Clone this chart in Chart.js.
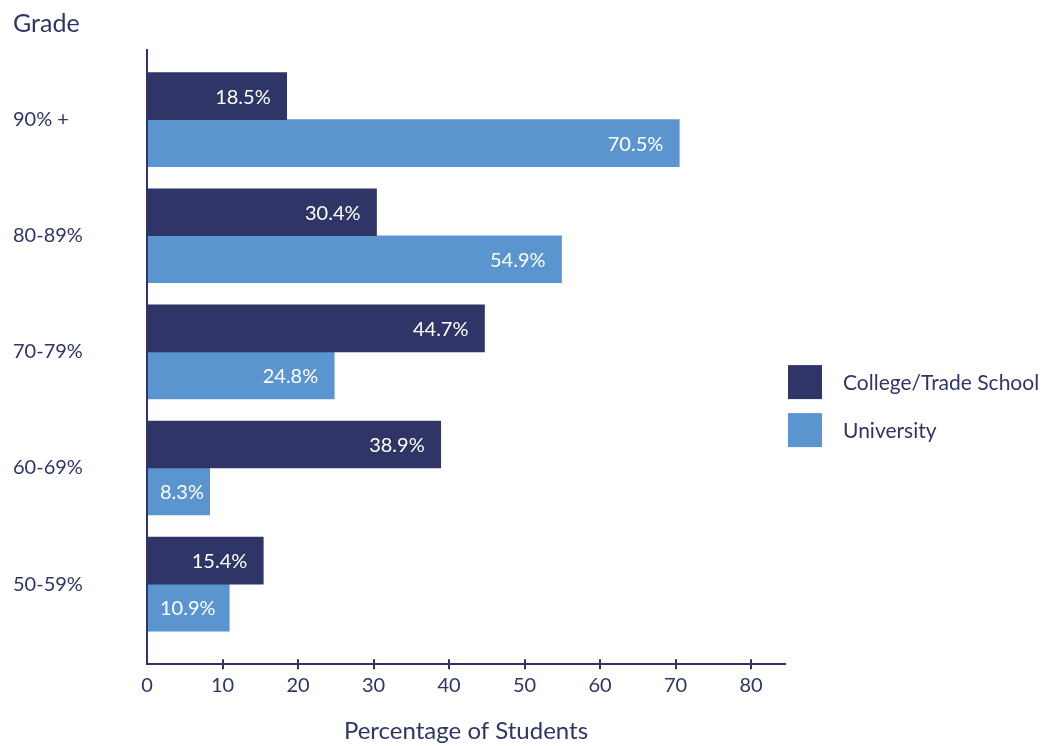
<!DOCTYPE html>
<html>
<head>
<meta charset="utf-8">
<script src="https://cdn.jsdelivr.net/npm/chart.js@4.4.1/dist/chart.umd.min.js"></script>
<style>
  html, body { margin: 0; padding: 0; background: #fff; }
  #wrap { width: 1053px; height: 746px; position: relative; }
</style>
</head>
<body>
<div id="wrap"><canvas id="gradeChart"></canvas></div>
<script>
// Grade distribution by post-secondary path
const grades = ['90% +', '80-89%', '70-79%', '60-69%', '50-59%'];
const collegeValues = [18.5, 30.4, 44.7, 38.9, 15.4];
const universityValues = [70.5, 54.9, 24.8, 8.3, 10.9];
const xTickValues = [0, 10, 20, 30, 40, 50, 60, 70, 80];

const navy = '#2f3566';
const lightBlue = '#5b95cf';
const fontFamily = 'Lato, "Noto Sans", sans-serif';

// white % labels inside the bars
const valueLabels = {
  id: 'valueLabels',
  afterDatasetsDraw(chart) {
    const ctx = chart.ctx;
    ctx.save();
    ctx.font = '20px ' + fontFamily;
    ctx.fillStyle = '#fff';
    ctx.textBaseline = 'middle';
    chart.data.datasets.forEach((ds, i) => {
      chart.getDatasetMeta(i).data.forEach((bar, j) => {
        const txt = ds.data[j].toFixed(1) + '%';
        const w = ctx.measureText(txt).width;
        let x = bar.x - 16;
        if (x - w < bar.base + 13) x = bar.base + 13 + w;
        ctx.textAlign = 'right';
        ctx.fillText(txt, x, bar.y + 1);
      });
    });
    ctx.restore();
  }
};

// tick marks crossing the x axis + legend on the right
const extras = {
  id: 'extras',
  afterDraw(chart) {
    const ctx = chart.ctx;
    const xs = chart.scales.x;
    const area = chart.chartArea;
    ctx.save();
    ctx.strokeStyle = navy;
    ctx.lineWidth = 2;
    xTickValues.forEach(v => {
      if (v === 0) return;
      const px = Math.round(xs.getPixelForValue(v));
      ctx.beginPath();
      ctx.moveTo(px, area.bottom - 5);
      ctx.lineTo(px, area.bottom + 5);
      ctx.stroke();
    });

    const lx = area.right + 3;
    const ly = (area.top + area.bottom) / 2 + 8;
    ctx.font = '21px ' + fontFamily;
    ctx.textBaseline = 'middle';
    ctx.textAlign = 'left';
    chart.data.datasets.forEach((ds, i) => {
      const y = ly + i * 48;
      ctx.fillStyle = ds.backgroundColor;
      ctx.fillRect(lx, y, 34, 34);
      ctx.fillStyle = navy;
      ctx.fillText(ds.label, lx + 55, y + 18);
    });
    ctx.restore();
  }
};

new Chart(document.getElementById('gradeChart'), {
  type: 'bar',
  data: {
    labels: grades,
    datasets: [
      { label: 'College/Trade School', data: collegeValues, backgroundColor: navy, barThickness: 47 },
      { label: 'University', data: universityValues, backgroundColor: lightBlue, barThickness: 47 }
    ]
  },
  options: {
    indexAxis: 'y',
    responsive: true,
    maintainAspectRatio: false,
    animation: false,
    layout: { padding: { left: 13, right: 268, top: 0, bottom: 0 } },
    plugins: {
      legend: { display: false },
      tooltip: { enabled: false },
      title: {
        display: true,
        text: 'Grade',
        align: 'start',
        color: navy,
        font: { family: fontFamily, size: 25, weight: 'normal' },
        padding: { top: 9, bottom: 11 }
      }
    },
    scales: {
      x: {
        min: 0,
        max: 84.5,
        grid: { display: false, drawTicks: false },
        border: { display: true, color: navy, width: 2, z: 1 },
        ticks: {
          stepSize: 10,
          includeBounds: false,
          padding: 9,
          color: navy,
          font: { family: fontFamily, size: 20 }
        },
        title: {
          display: true,
          text: 'Percentage of Students',
          color: navy,
          font: { family: fontFamily, size: 24 },
          padding: { top: 11, bottom: 0 }
        }
      },
      y: {
        offset: true,
        grid: { display: false, drawTicks: false },
        border: { display: true, color: navy, width: 2, z: 1 },
        ticks: {
          crossAlign: 'far',
          padding: 0,
          color: navy,
          font: { family: fontFamily, size: 20 }
        },
        afterFit: s => { s.width = 134; },
        // leave a little extra room above and below the category bands
        afterBuildTicks: s => { s._startValue -= 0.1; s._valueRange += 0.29; }
      }
    }
  },
  plugins: [valueLabels, extras]
});
</script>
</body>
</html>
